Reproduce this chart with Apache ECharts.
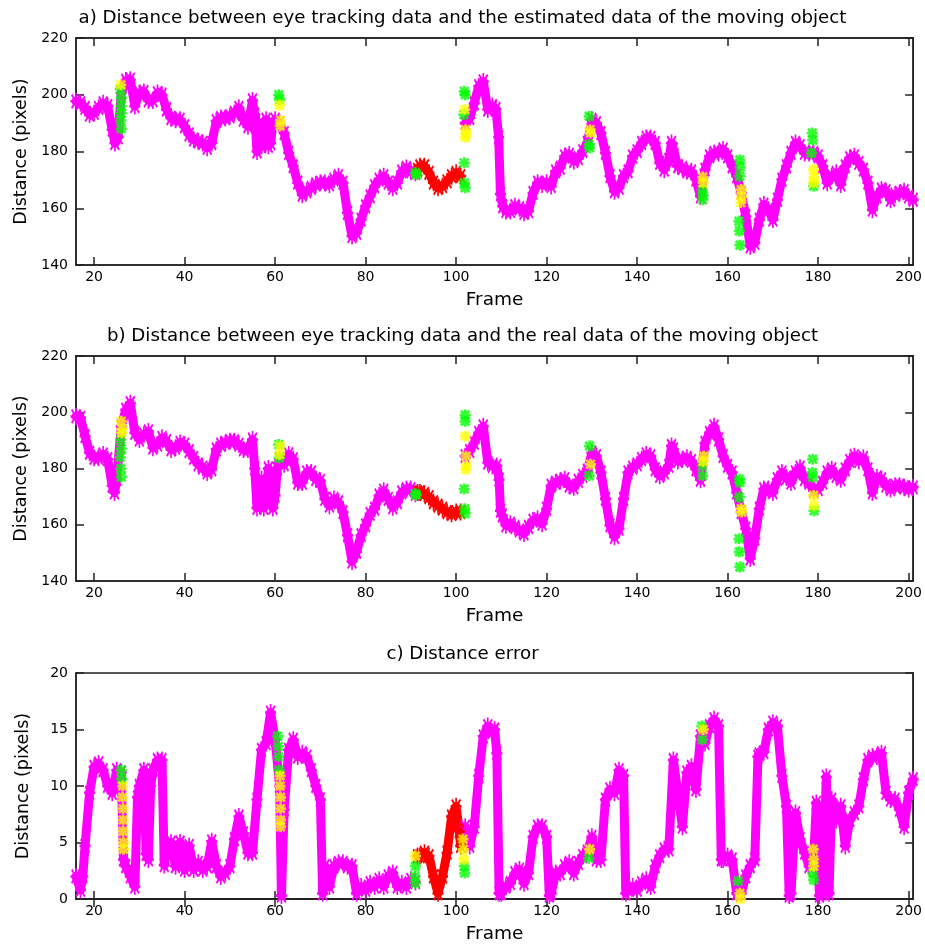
<!DOCTYPE html>
<html>
<head>
<meta charset="utf-8">
<script src="https://cdn.jsdelivr.net/npm/echarts@6/dist/echarts.min.js"></script>
<style>
  html, body { margin: 0; background: #fff; }
  #chart { width: 925px; height: 951px; }
</style>
</head>
<body>
<div id="chart"></div>
<script>
// tick labels
const frameTicks = [20, 40, 60, 80, 100, 120, 140, 160, 180, 200];
const titles = [
  'a) Distance between eye tracking data and the estimated data of the moving object',
  'b) Distance between eye tracking data and the real data of the moving object',
  'c) Distance error'
];

// a) magenta trace, before and after the red stretch
const aPinkL = [[16,197.7],[17,197],[18,195.4],[19,193],[20,193.6],[21,195.4],[22,197],[23,196],[24,187.7],[24.6,183],[25.3,185],[26,200.6],[27,205],[28,205.3],[29,196],[30,200.6],[31,201],[32,198],[33,198],[34,200.6],[35,200],[36,194.8],[37,191.8],[38,191.2],[39,191.2],[40,188.9],[41,186],[42,184.2],[43,183.6],[44,183],[45,181.3],[46,183],[47,190.7],[48,191.8],[49,191.8],[50,192.4],[51,193.6],[52,195.4],[53,191.2],[54,188.9],[55,198],[55.5,193],[56,180],[56.5,190],[57,181.9],[57.5,187],[58,191.2],[58.5,182],[59,183],[59.5,190],[60,191.2],[61,190],[62,186.5],[63,179.5],[64,174.8],[65,169],[66,164.8],[67,166],[68,167.2],[69,168.4],[70,169],[71,169],[72,168.4],[73,170.1],[74,171.3],[75,169],[76,158.4],[77,150.2],[78,151.3],[79,156],[80,160.7],[81,164.2],[82,167.8],[83,170.1],[84,171.3],[85,169],[86,167.2],[87,169],[88,173],[89,174.2],[90,173],[91,172.5]];
const aPinkR = [[102,190],[103,191.8],[104,197],[105,203],[106,204.7],[107,194.8],[108,196],[108.8,195],[109.4,185],[109.8,165],[110.3,160.7],[111,159],[112,159],[113,160.7],[114,160],[115,158.4],[116,159],[117,165.4],[118,169],[119,168.4],[120,169],[121,167.8],[122,173],[123,174.2],[124,178.3],[125,178.9],[126,176.6],[127,177.7],[128,180.1],[129,183],[130,191.2],[131,190],[132,186.5],[133,179.5],[134,171.3],[135,166],[136,167.2],[137,171.3],[138,173],[139,178.3],[140,180.1],[141,183],[142,184.8],[143,184.8],[144,183],[145,176],[146,173.6],[147,177],[147.6,183],[148,180.7],[149,174.8],[150,174.2],[151,173],[152,173],[153,170.1],[154,164.2],[155,173.6],[156,178.3],[157,179.5],[158,179.5],[159,180.7],[160,178.3],[161,174.8],[162,171.3],[163,165.4],[164,157.2],[165,146.6],[166,147.8],[167,156],[168,161.3],[169,159.5],[170,156],[171,163],[172,170.1],[173,174.8],[174,179.5],[175,183],[176,181.9],[177,179.5],[178,179.5],[179,179.5],[180,178.3],[181,174.8],[182,169],[183,171.3],[184,172.5],[185,168.4],[186,174.8],[187,177.7],[188,178.3],[189,176],[190,173.6],[191,169],[192,159.5],[193,164.2],[194,166.6],[195,166],[196,163],[197,164.8],[198,165.4],[199,166],[200,164.2],[201,163]];
const aRed = [[91.5,173.5],[92,174.8],[93,174.8],[94,172.5],[95,169],[96,167.2],[97,167.8],[98,169.5],[99,171.3],[100,172.5],[101,171.3]];
const aGreen = [[25.8,202],[26,199],[26,196],[26,193.5],[25.9,191],[26,188],[60.8,200],[61,198.3],[91,172.5],[91.3,171.8],[101.8,201.2],[102,200],[101.7,193],[101.8,176],[101.8,169],[102,167.2],[129.4,192.4],[129.5,181.3],[129.4,182.5],[154.4,166.6],[154.6,164.5],[154.5,163],[162.7,177],[162.8,174.5],[162.7,171.3],[162.5,155.4],[162.6,152],[162.7,147],[178.7,186.5],[178.8,184],[178.5,179.5],[179,167.8]];
const aYellow = [[25.9,203.5],[61,196.3],[61.2,191],[61.1,189],[101.9,194.8],[102.1,187.7],[102.2,186],[102,185],[129.6,187.7],[129.7,186.5],[154.5,171],[154.6,169],[163,166.6],[163.1,164],[162.9,162],[179,173.6],[179.1,171],[179,169]];

// b)
const bPinkL = [[16,198.5],[17,198],[18,191.5],[19,185.6],[20,183.8],[21,183.8],[22,185],[23,183.3],[24,173.9],[24.5,171.5],[25,176.2],[26,195],[27,200.9],[28,203.2],[29,192.7],[30,190.3],[31,192],[32,193.2],[33,187.4],[34,188.5],[35,190.9],[36,189.7],[37,186.8],[38,187.4],[39,189.1],[40,188.5],[41,186.2],[42,183.8],[43,181.5],[44,180.3],[45,178.6],[46,179.7],[47,186.8],[48,188.5],[49,189.1],[50,189.7],[51,189.7],[52,188.5],[53,186.8],[54,186.8],[55,190.3],[55.5,180],[56,166],[56.5,175],[57,176.2],[57.5,166],[58,169.2],[58.5,180],[59,178.6],[59.5,166],[60,170.4],[60.5,180],[61,183.3],[62,181.5],[63,185],[64,183.3],[65,175],[66,175],[67,178.6],[68,178.6],[69,176.2],[70,175.6],[71,169.2],[72,166.8],[73,169.2],[74,168],[75,164.5],[76,156.3],[77,146.9],[78,150.4],[79,156.3],[80,159.8],[81,163.9],[82,165.7],[83,170.4],[84,172.1],[85,169.2],[86,166.2],[87,168],[88,171.5],[89,172.7],[90,172.7],[91,171]];
const bPinkR = [[102,184.4],[103,186.2],[104,189.1],[105,192.7],[106,195],[107,182.1],[108,180.9],[109,180.9],[109.5,176],[109.8,165],[110.2,163.3],[111,159.8],[112,160.4],[113,159.2],[114,158],[115,156.9],[116,159.2],[117,161.5],[118,162.1],[119,160.4],[120,165.7],[121,173.9],[122,175],[123,175.6],[124,176.2],[125,173.9],[126,173.3],[127,175.6],[128,177.4],[129,179.2],[130,185.6],[131,184.4],[132,178.6],[133,169.2],[134,159.8],[135,155.7],[136,158.6],[137,169.2],[138,178.6],[139,180.3],[140,181.5],[141,183.3],[142,185],[143,184.4],[144,179.7],[145,177.4],[146,178.6],[147,180.9],[147.6,188],[148,186.8],[149,182.7],[150,183.3],[151,183.8],[152,182.7],[153,179.7],[154,176],[155,189.1],[156,192.7],[157,195],[158,190.3],[159,184.4],[160,180.9],[161,178.6],[162,171.5],[163,164.5],[164,158.6],[165,148],[166,155.1],[167,165.7],[168,172.7],[169,172.7],[170,171.5],[171,176.2],[172,178.6],[173,176.8],[174,175],[175,178.6],[176,180.3],[177,176.2],[178,175],[179,172.1],[180,172.7],[181,175],[182,178.6],[183,179.7],[184,177.4],[185,176.2],[186,179.7],[187,182.7],[188,184.4],[189,182.7],[190,183.8],[191,179.7],[192,171.5],[193,176.8],[194,176.2],[195,173.9],[196,172.7],[197,173.9],[198,173.9],[199,173.3],[200,172.7],[201,173.3]];
const bRed = [[91.5,171.5],[92,171.5],[93,171],[94,169.8],[95,168],[96,166.8],[97,165.7],[98,164.5],[99,163.9],[100,164.5],[101,164.5]];
const bGreen = [[25.9,190.3],[26,187],[25.8,184],[25.9,180],[26,177],[60.8,188.5],[60.9,183.8],[91,171],[91.2,170.5],[102,199],[102,196.8],[101.8,172.7],[101.9,165.7],[102,164],[129.5,188],[129.4,177.4],[154.4,180.9],[154.5,177.4],[162.6,176.2],[162.7,175],[162.6,169.8],[162.5,155],[162.6,150.4],[162.7,145],[178.8,183.3],[178.7,178.6],[178.8,176.8],[179.1,165]];
const bYellow = [[26,196.8],[26.2,194],[26.1,192.7],[61.1,188],[61,185],[102,191.5],[102.2,184.4],[102.3,181],[102.1,179.7],[129.7,181.5],[154.7,184.4],[154.6,182.5],[163,165.7],[163.1,164.5],[179,170.4],[179.1,166.8]];

// c)
const cPinkL = [[16,2],[17,0.8],[17.5,2],[18,4.7],[19,9.4],[20,11.7],[21,12],[22,11.4],[23,10],[24,9.4],[25,11.4],[26,11.2],[26.5,3.5],[27,2.9],[28,2],[29,1.1],[29.6,9],[30,10],[31,11.4],[31.5,4],[32,3.5],[32.5,10],[33,11.4],[34,12.3],[35,12.3],[35.5,3],[36,4.7],[37,5],[38,2.9],[39,5],[40,2.6],[41,4.7],[42,2.6],[43,3.2],[44,2.6],[45,2.9],[46,5.1],[47,2.9],[48,2],[49,2.3],[50,2.9],[51,5.3],[52,7.3],[53,5.8],[54,4.1],[55,4.1],[56,8.8],[57,13.2],[58,13.8],[59,16.5],[60,14.1],[61,10],[61.4,0.3],[62,7.9],[63,13.2],[64,14.1],[65,12.6],[66,12.9],[67,12.6],[68,11.4],[69,10],[70,8.8],[70.5,0.5],[71,2.9],[72,1.1],[73,2.9],[74,3.2],[75,3.2],[76,2.9],[77,2.9],[78,0.5],[79,1.1],[80,0.8],[81,1.4],[82,1.1],[83,1.7],[84,1.1],[85,2],[86,2.3],[87,1.1],[88,1.4],[89,1.1],[90,1.7],[91,1.5]];
const cPinkR = [[102,6.4],[103,4.7],[104,6.4],[105,10.9],[106,14.4],[107,15.3],[108,14.8],[108.5,15],[109,12.9],[109.5,0.5],[110,0.5],[111,1.1],[112,1.4],[113,2.3],[114,2.6],[115,1.4],[116,2.3],[117,5.5],[118,6.4],[119,6.4],[120,5.5],[120.6,0.3],[121,0.5],[122,2.3],[123,2.3],[124,2.9],[125,3.2],[126,2.3],[127,3.2],[128,3.8],[129,4.2],[130,5.5],[131,3.5],[132,3.5],[133,8.8],[134,9.7],[135,9.4],[136,11.4],[137,10.9],[137.5,0.5],[138,0.8],[139,1.1],[140,0.8],[141,1.4],[142,1.7],[143,1.1],[144,2.9],[145,3.8],[146,4.4],[147,4.4],[148,12.3],[149,9.4],[150,6.4],[151,11.2],[152,11.7],[153,9.7],[154,14.4],[155,13.8],[156,15.3],[157,15.9],[158,15.3],[158.6,3.5],[159,3.5],[160,3.8],[161,3.5],[162,0.5],[163,0.5],[164,2],[165,2.9],[166,3.5],[166.7,12.6],[167,12.8],[168,13],[169,15],[170,15.6],[171,15.3],[172,10.9],[173,8.2],[173.6,0.3],[174,0.5],[175,7.6],[176,5.3],[177,4.1],[178,2.9],[179,3.5],[179.6,8.5],[180.3,0.3],[181,0.5],[181.8,10.8],[182.4,0.5],[183,8.8],[184,7],[185,8.2],[186,4.7],[187,7],[188,7.6],[189,8.2],[190,10.6],[191,12.3],[192,12.6],[193,12.6],[194,12.9],[195,9.4],[196,8.8],[197,8.8],[198,7.9],[199,6.4],[200,9.4],[201,10.6]];
const cRed = [[91.5,3.8],[92,3.8],[93,4.1],[94,3.8],[95,2],[96,0.5],[97,2],[98,4.1],[99,7.3],[100,8.2],[100.7,6],[101,4.7]];
const cGreen = [[26,11.4],[26.1,10.6],[60.6,14.4],[60.7,13.5],[60.8,12.6],[60.9,11.4],[91,2.9],[90.9,2],[91,1.4],[101.8,2.9],[101.9,2.3],[129.3,3.6],[154.3,15.3],[154.4,14.1],[162.3,1.6],[178.8,2.3],[179,1.7]];
const cYellow = [[26.3,10],[26.3,9],[26.4,8],[26.4,7],[26.4,6],[26.5,5],[26.5,4.4],[61.1,10.9],[61.1,10],[61.2,9],[61.2,8],[61.2,7],[61.2,6.4],[91,3.8],[101.5,5.3],[101.6,4.4],[101.7,3.5],[129.5,4.4],[154.6,15],[162.7,0.5],[162.8,0],[178.9,4.4],[179,3.5],[179,2.9]];

const panels = [
  { pink: aPinkL.concat([null], aPinkR), red: aRed, green: aGreen, yellow: aYellow, min: 140, max: 220, step: 20 },
  { pink: bPinkL.concat([null], bPinkR), red: bRed, green: bGreen, yellow: bYellow, min: 140, max: 220, step: 20 },
  { pink: cPinkL.concat([null], cPinkR), red: cRed, green: cGreen, yellow: cYellow, min: 0, max: 20, step: 5 }
];

// matlab-like '*' markers: thin arms for the trace, fat arms for the highlights
const star = 'path://M0 8.5H20V11.5H0Z M8.5 0H11.5V20H8.5Z M1 3.1L3.1 1L19 16.9L16.9 19Z M16.9 1L19 3.1L3.1 19L1 16.9Z';
const fatStar = 'path://M0 7.5H20V12.5H0Z M7.5 0H12.5V20H7.5Z M0.5 4L4 0.5L19.5 16L16 19.5Z M16 0.5L19.5 4L4 19.5L0.5 16Z M5 5H15V15H5Z';
const font = 'DejaVu Sans, Verdana, sans-serif';
const gridTops = [38, 356, 673];
const gridHeights = [227, 225, 226];
const titleTops = [4, 322, 640];

const tickStyle = { inside: true, length: 8, lineStyle: { color: '#222', width: 1.5 } };
const lineStyle = { lineStyle: { color: '#222', width: 1.5 } };

const option = {
  animation: false,
  backgroundColor: '#fff',
  title: titles.map((t, i) => ({
    text: t, left: 'center', top: titleTops[i],
    textStyle: { fontFamily: font, fontSize: 18.2, fontWeight: 'normal', color: '#000' }
  })),
  grid: gridTops.map((t, i) => ({
    left: 76, right: 7, top: t, height: gridHeights[i],
    show: true, borderColor: '#222', borderWidth: 1.5
  })),
  xAxis: [],
  yAxis: [],
  series: []
};

panels.forEach((p, i) => {
  option.xAxis.push({
    gridIndex: i, type: 'value', min: 16, max: 201,
    name: 'Frame', nameLocation: 'middle', nameGap: 26,
    nameTextStyle: { fontFamily: font, fontSize: 18.5, color: '#000' },
    axisLine: lineStyle,
    axisTick: Object.assign({ customValues: frameTicks }, tickStyle),
    axisLabel: { customValues: frameTicks, color: '#000', fontFamily: font, fontSize: 14, margin: 5 },
    splitLine: { show: false }
  });
  option.yAxis.push({
    gridIndex: i, type: 'value', min: p.min, max: p.max, interval: p.step,
    name: 'Distance (pixels)', nameLocation: 'middle', nameGap: 44,
    nameTextStyle: { fontFamily: font, fontSize: 17.5, color: '#000' },
    axisLine: lineStyle, axisTick: tickStyle,
    axisLabel: { color: '#000', fontFamily: font, fontSize: 14, margin: 8 },
    splitLine: { show: false }
  });
});
panels.forEach((p, i) => {
  option.xAxis.push({
    gridIndex: i, type: 'value', min: 16, max: 201, position: 'top',
    axisLine: lineStyle,
    axisTick: Object.assign({ customValues: frameTicks }, tickStyle),
    axisLabel: { show: false }, splitLine: { show: false }
  });
  option.yAxis.push({
    gridIndex: i, type: 'value', min: p.min, max: p.max, interval: p.step, position: 'right',
    axisLine: lineStyle, axisTick: tickStyle,
    axisLabel: { show: false }, splitLine: { show: false }
  });
});

panels.forEach((p, i) => {
  const thick = (data, color) => ({
    type: 'line', xAxisIndex: i, yAxisIndex: i, data,
    symbol: star, symbolSize: [11, 17], showAllSymbol: true,
    itemStyle: { color },
    lineStyle: { color, width: 9, cap: 'round', join: 'round' },
    connectNulls: false, silent: true, z: 2
  });
  const dots = (data, color) => ({
    type: 'scatter', xAxisIndex: i, yAxisIndex: i, data,
    symbol: fatStar, symbolSize: 11, itemStyle: { color }, silent: true, z: 4
  });
  option.series.push(
    thick(p.pink, '#ff00ff'),
    thick(p.red, '#ff0000'),
    dots(p.green, '#00ff00'),
    dots(p.yellow, '#ffff00')
  );
});

const chart = echarts.init(document.getElementById('chart'));
chart.setOption(option);
</script>
</body>
</html>
